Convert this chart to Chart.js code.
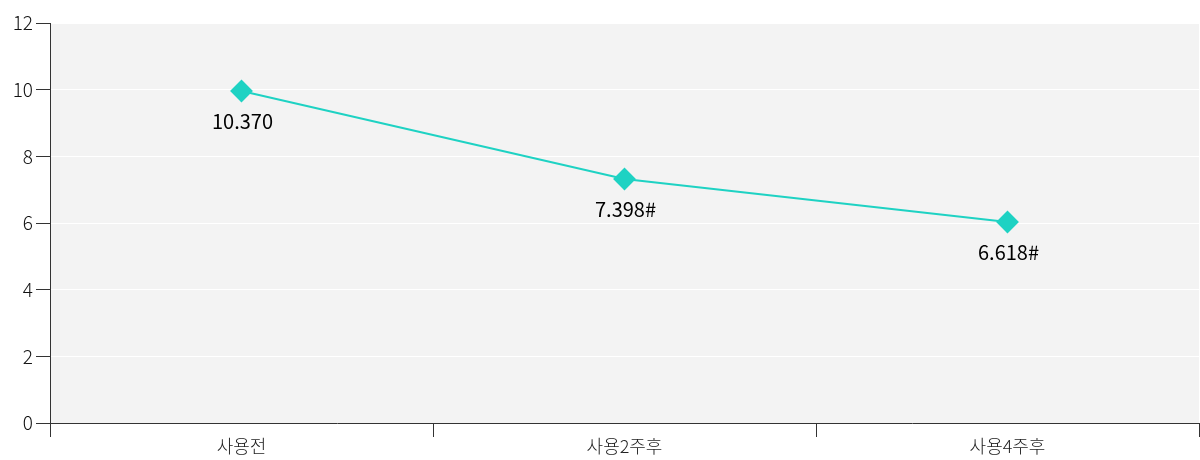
<!DOCTYPE html>
<html>
<head>
<meta charset="utf-8">
<script src="https://cdn.jsdelivr.net/npm/chart.js@4/dist/chart.umd.min.js"></script>
<style>
  html, body { margin: 0; padding: 0; background: #fff; overflow: hidden; }
  #wrap { position: relative; width: 1200px; height: 460px; }
</style>
</head>
<body>
<div id="wrap"><canvas id="mycanvas"></canvas></div>
<script>
var categories = ['사용전', '사용2주후', '사용4주후'];
var values = [9.96, 7.32, 6.03];
var valueLabels = ['10.370', '7.398#', '6.618#'];
var yTicks = [0, 2, 4, 6, 8, 10, 12];

var FONT = '"Noto Sans CJK KR", "Noto Sans", sans-serif';

// grey plot background
var plotBg = {
    id: 'plotBg',
    beforeDraw: function (chart) {
        var a = chart.chartArea, ctx = chart.ctx;
        ctx.save();
        ctx.fillStyle = '#f3f3f3';
        ctx.fillRect(a.left, a.top, a.right - a.left, a.bottom - a.top);
        ctx.restore();
    }
};

// value text under each point
var valueText = {
    id: 'valueText',
    afterDatasetsDraw: function (chart) {
        var ctx = chart.ctx;
        var meta = chart.getDatasetMeta(0);
        ctx.save();
        ctx.font = '400 20px ' + FONT;
        ctx.fillStyle = '#000';
        ctx.textAlign = 'center';
        ctx.textBaseline = 'middle';
        meta.data.forEach(function (pt, i) {
            ctx.fillText(valueLabels[i], pt.x + 1, pt.y + 30);
        });
        ctx.restore();
    }
};

var ctx = document.getElementById('mycanvas');

var chart = new Chart(ctx, {
    type: 'line',
    data: {
        labels: categories,
        datasets: [{
            data: values,
            borderColor: '#1ed2c3',
            backgroundColor: '#1ed2c3',
            borderWidth: 2,
            pointStyle: 'rectRot',
            pointRadius: 10,
            pointHoverRadius: 10,
            tension: 0
        }]
    },
    options: {
        responsive: true,
        maintainAspectRatio: false,
        animation: false,
        layout: {
            autoPadding: false,
            padding: { top: 23, right: 1, left: 0, bottom: 5 }
        },
        plugins: {
            legend: { display: false },
            tooltip: { enabled: false }
        },
        scales: {
            x: {
                offset: true,
                afterFit: function (scale) {
                    scale.paddingLeft = 0;
                    scale.paddingRight = 0;
                },
                grid: {
                    offset: true,
                    drawOnChartArea: false,
                    color: '#333',
                    tickColor: '#333',
                    tickLength: 14
                },
                border: { color: '#333', width: 1 },
                ticks: {
                    color: '#222',
                    padding: 0,
                    font: { family: FONT, size: 18, weight: 300, lineHeight: 1 }
                }
            },
            y: {
                min: 0,
                max: 12,
                afterFit: function (scale) { scale.width = 50; },
                afterBuildTicks: function (scale) {
                    scale.ticks = yTicks.map(function (v) { return { value: v }; });
                },
                grid: {
                    color: '#ffffff',
                    tickColor: '#333',
                    tickLength: 14,
                    lineWidth: 1
                },
                border: { color: '#333', width: 1 },
                ticks: {
                    color: '#111',
                    padding: 3,
                    font: { family: FONT, size: 19, weight: 300 }
                }
            }
        }
    },
    plugins: [plotBg, valueText]
});
</script>
</body>
</html>
